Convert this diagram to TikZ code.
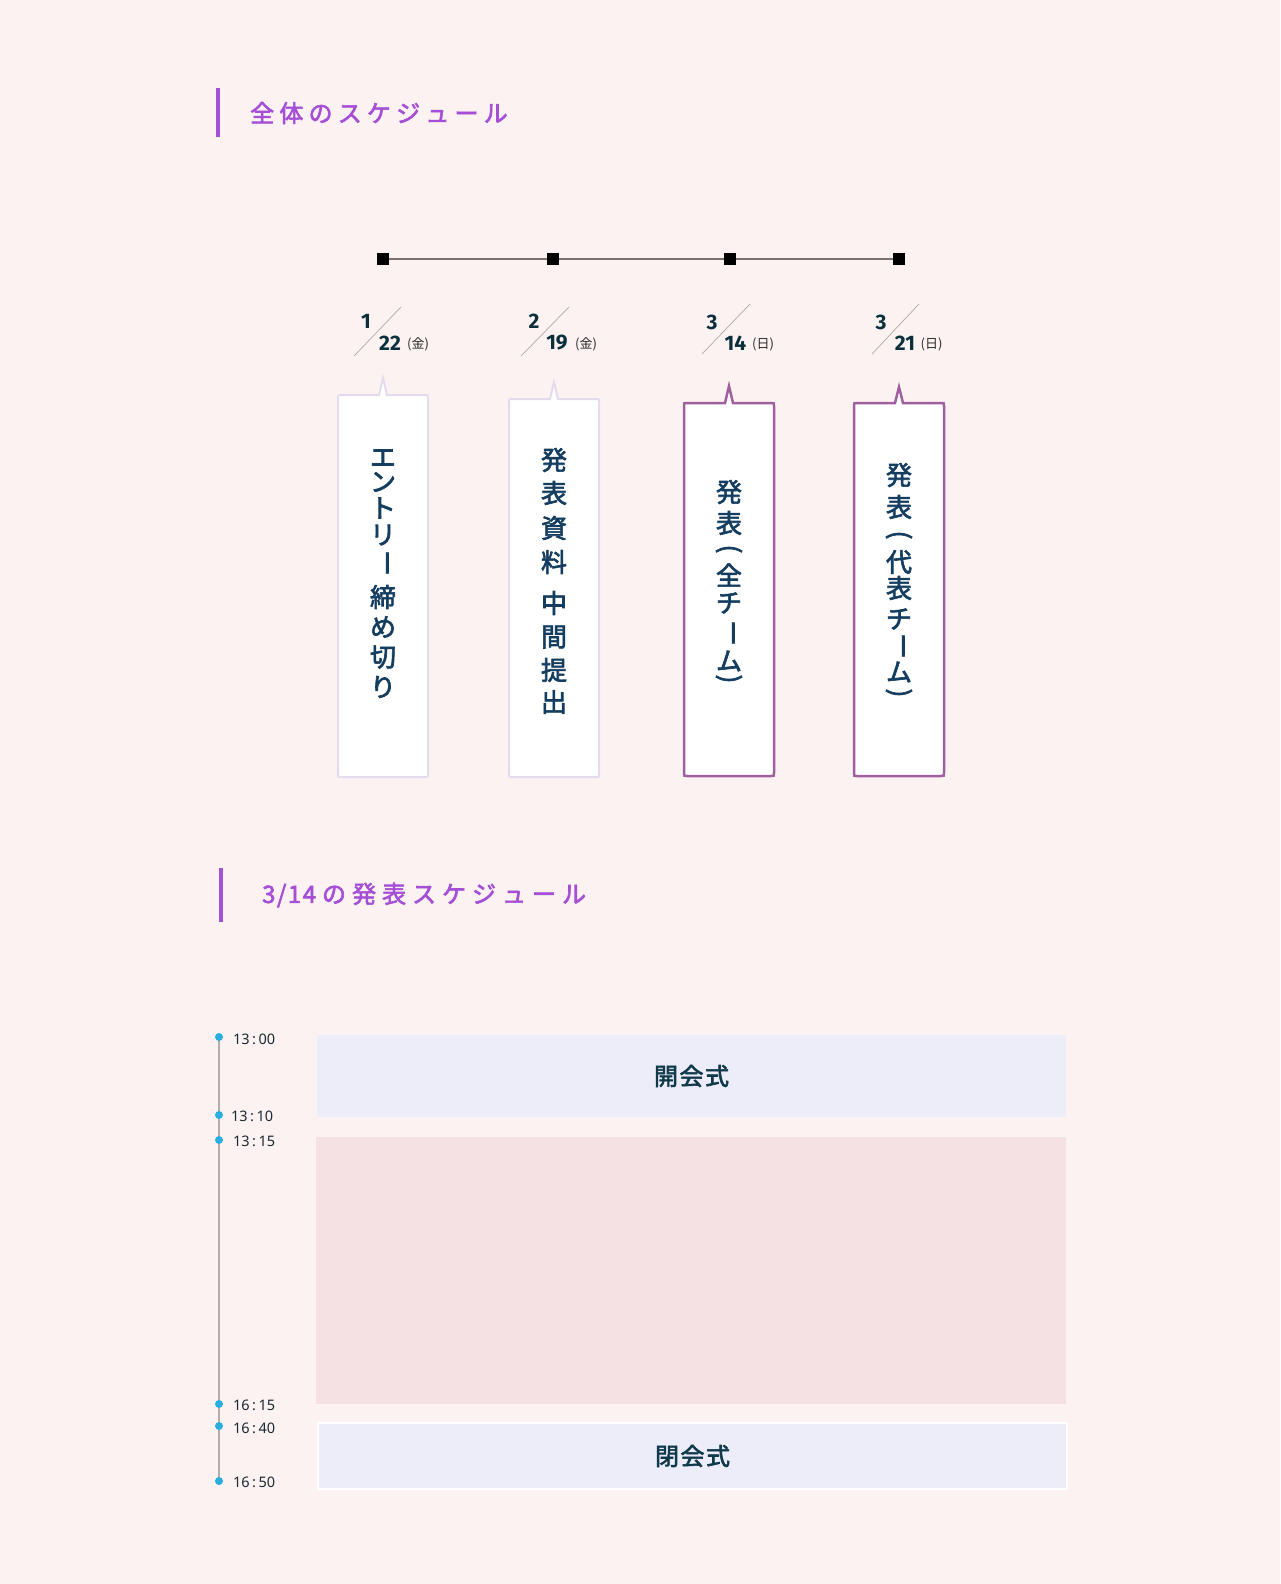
\documentclass[tikz,border=0pt]{standalone}
\usepackage{fontspec}
\setmainfont{Noto Sans}
\newfontfamily\jp{Noto Sans CJK JP}
\newfontfamily\jpm[FakeBold=2.5]{Noto Sans CJK JP}
\newfontfamily\numf{Fira Sans}
\definecolor{bgc}{HTML}{FBF2F1}
\definecolor{titlec}{HTML}{A54FD6}
\definecolor{linec}{HTML}{777272}
\definecolor{datec}{HTML}{0C2F3C}
\definecolor{dgray}{HTML}{2A2A2A}
\definecolor{slashc}{HTML}{B0AAAA}
\definecolor{boxtext}{HTML}{143D60}
\definecolor{lightb}{HTML}{E3DCEE}
\definecolor{purpb}{HTML}{A0609F}
\definecolor{dotc}{HTML}{2AAEDF}
\definecolor{vline}{HTML}{B5AEAC}
\definecolor{labc}{HTML}{1A2A32}
\definecolor{blue1}{HTML}{ECEDF9}
\definecolor{pink1}{HTML}{F5E1E4}
\definecolor{blkt}{HTML}{10394A}
\newcommand\ks{\kern5.2pt}
\newcommand\kt{\kern6pt}
\newcommand\kd{\kern1.5pt}
% callout: #1 cx, #2 top, #3 bottom, #4 tip y (centre line), #5 style
\newcommand\callout[5]{%
  \draw[#5, line join=miter, miter limit=10] (#1,#4) -- ({#1+4},#2)
    -- ({#1+42},#2) .. controls ({#1+45},#2) .. ({#1+45},{#2+3})
    -- ({#1+45},{#3-3}) .. controls ({#1+45},#3) .. ({#1+42},#3)
    -- ({#1-42},#3) .. controls ({#1-45},#3) .. ({#1-45},{#3-3})
    -- ({#1-45},{#2+3}) .. controls ({#1-45},#2) .. ({#1-42},#2)
    -- ({#1-4},#2) -- cycle;}
\begin{document}
\begin{tikzpicture}[x=1pt,y=-1pt,
  sq/.style={fill=black, minimum size=12pt, inner sep=0},
  tline/.style={draw=linec, line width=1.5pt},
  dnum/.style={font=\numf\bfseries\fontsize{21}{21}\selectfont, text=datec, inner sep=0},
  dday/.style={font=\jp\fontsize{13}{13}\selectfont, text=dgray, inner sep=0},
  slash/.style={draw=slashc, line width=0.7pt},
  vchar/.style={font=\jpm\fontsize{26}{26}\selectfont, text=boxtext, inner sep=0},
  vrot/.style={vchar, rotate=-90},
  lightbox/.style={draw=lightb, line width=2pt, fill=white},
  purplebox/.style={draw=purpb, line width=2.5pt, fill=white},
  title/.style={font=\jpm\fontsize{24}{24}\selectfont, text=titlec, inner sep=0, anchor=west},
  tbar/.style={draw=titlec, line width=4pt},
  tdot/.style={circle, fill=dotc, minimum size=8pt, inner sep=0},
  tlabel/.style={font=\fontsize{14.5}{15}\selectfont, text=labc, inner sep=0, anchor=west},
  blk/.style={inner sep=0, font=\jpm\fontsize{24}{24}\selectfont, text=blkt}]
\useasboundingbox (0,0) rectangle (1280,1584);
\fill[bgc] (0,0) rectangle (1280,1584);

% titles
\draw[tbar] (218,88) -- (218,137);
\node[title] (t1) at (250,113) {全\ks 体\ks の\ks ス\ks ケ\ks ジ\ks ュ\ks ー\ks ル};
\draw[tbar] (221,868) -- (221,922);
\node[title] (t2) at (262,895) {3\kd /\kd 1\kd 4\kt の\kt 発\kt 表\kt ス\kt ケ\kt ジ\kt ュ\kt ー\kt ル};

% top timeline
\node[sq] (s1) at (383,259) {};
\node[sq] (s2) at (553,259) {};
\node[sq] (s3) at (730,259) {};
\node[sq] (s4) at (899,259) {};
\draw[tline] (s1) -- (s2) -- (s3) -- (s4);

% dates
\draw[slash] (354,356) -- (401,307);
\node[dnum] (m1) at (366,321) {1};
\node[dnum] (d1) at (390,343) {22};
\node[dday] (w1) at (418,344) {(金)};
\draw[slash] (521,356) -- (569,307);
\node[dnum] (m2) at (534,321) {2};
\node[dnum] (d2) at (557,343) {19};
\node[dday] (w2) at (586,344) {(金)};
\draw[slash] (702,354) -- (750,304);
\node[dnum] (m3) at (712,322) {3};
\node[dnum] (d3) at (735.5,343.5) {14};
\node[dday] (w3) at (763,344.5) {(日)};
\draw[slash] (872,354) -- (919,304);
\node[dnum] (m4) at (881,322) {3};
\node[dnum] (d4) at (905,343.5) {21};
\node[dday] (w4) at (931.5,344.5) {(日)};

% callouts
\callout{383}{395}{777}{378}{lightbox}
\callout{554}{399}{777}{382}{lightbox}
\callout{729}{403}{776}{386}{purplebox}
\callout{899}{403}{776}{387}{purplebox}

\foreach \c/\y [count=\i] in {エ/458, ン/482, ト/508, リ/535}
  \node[vchar] (ba\i) at (383,\y) {\c};
\node[vrot] (ba5) at (383,563) {ー};
\foreach \c/\y [count=\i from 6] in {締/597, め/627, 切/657, り/687}
  \node[vchar] (ba\i) at (383,\y) {\c};
\foreach \c/\y [count=\i] in {発/460, 表/493, 資/528, 料/562, 中/603, 間/637, 提/670, 出/702}
  \node[vchar] (bb\i) at (554,\y) {\c};
\node[vchar] (bc1) at (729,492) {発};
\node[vchar] (bc2) at (729,523) {表};
\node[vrot] (bc3) at (729,549) {(};
\node[vchar] (bc4) at (729,575) {全};
\node[vchar] (bc5) at (729,603) {チ};
\node[vrot] (bc6) at (729,633) {ー};
\node[vchar] (bc7) at (729,661) {ム};
\node[vrot] (bc8) at (729,679) {)};
\node[vchar] (bd1) at (899,475) {発};
\node[vchar] (bd2) at (899,507) {表};
\node[vrot] (bd3) at (899,535) {(};
\node[vchar] (bd4) at (899,562) {代};
\node[vchar] (bd5) at (899,588) {表};
\node[vchar] (bd6) at (899,619) {チ};
\node[vrot] (bd7) at (899,646) {ー};
\node[vchar] (bd8) at (899,672) {ム};
\node[vrot] (bd9) at (899,693) {)};

% bottom timeline
\coordinate (vtop) at (219,1037);
\coordinate (vbot) at (219,1481);
\draw[draw=vline, line width=2pt] (vtop) -- (vbot);
\node[tdot] (p1) at (219,1037) {};
\node[tdot] (p2) at (219,1115) {};
\node[tdot] (p3) at (219,1140) {};
\node[tdot] (p4) at (219,1404) {};
\node[tdot] (p5) at (219,1426) {};
\node[tdot] (p6) at (219,1481) {};
\node[tlabel] (l1) at (233,1039) {13\,:\,00};
\node[tlabel] (l2) at (231,1116) {13\,:\,10};
\node[tlabel] (l3) at (233,1141) {13\,:\,15};
\node[tlabel] (l4) at (233,1405) {16\,:\,15};
\node[tlabel] (l5) at (233,1428) {16\,:\,40};
\node[tlabel] (l6) at (233,1482) {16\,:\,50};

% blocks
\node[blk, fill=blue1, minimum width=749pt, minimum height=82pt] (open) at (691.5,1076) {開\kern1.5pt 会\kern1.5pt 式};
\node[blk, fill=pink1, minimum width=750pt, minimum height=267pt] (talks) at (691,1270.5) {};
\node[blk, fill=blue1, draw=white, line width=1.5pt, minimum width=749pt, minimum height=66pt] (close) at (692.5,1456) {閉\kern1.5pt 会\kern1.5pt 式};
\end{tikzpicture}
\end{document}
